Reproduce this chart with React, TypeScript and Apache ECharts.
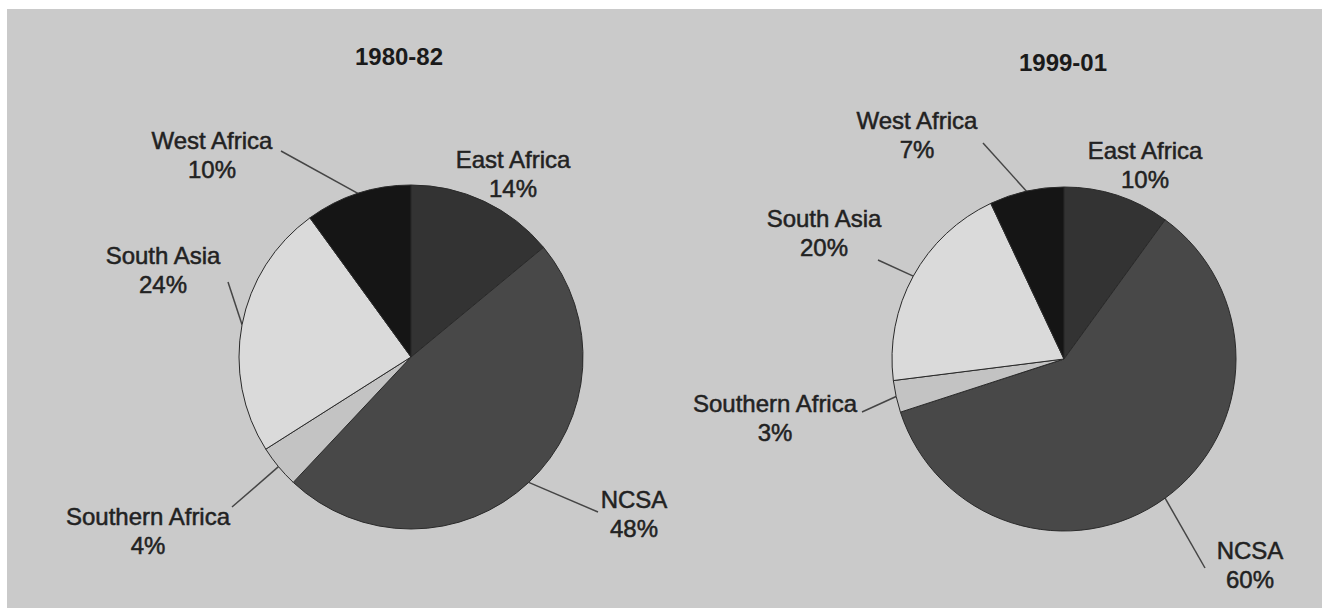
import React, { useEffect, useRef } from "react";
import * as echarts from "echarts";

const categories = ["East Africa", "NCSA", "Southern Africa", "South Asia", "West Africa"];
const values1980 = [14, 48, 4, 24, 10];
const values1999 = [10, 60, 3, 20, 7];
const titles = ["1980-82", "1999-01"];
const sliceColors = ["#333333", "#484848", "#c3c3c3", "#dadada", "#151515"];
const showLine1980 = [false, true, true, true, true];
const showLine1999 = [false, true, true, true, true];

// label layout (centre of two-line label, and where the leader meets the label)
const labelPos1980 = [[513, 174], [634, 514], [148, 531], [163, 270], [212, 155]];
const lineEnd1980 = [[0, 0], [598, 512], [232, 507], [228, 282], [281, 151]];
const labelPos1999 = [[1145, 165], [1250, 565], [775, 418], [824, 233], [917, 135]];
const lineEnd1999 = [[0, 0], [1205, 568], [862, 412], [878, 260], [983, 143]];

const FONT = "'Liberation Sans', Arial, Helvetica, sans-serif";

export default function App() {
  const ref = useRef<HTMLDivElement>(null);
  useEffect(() => {
    document.body.style.margin = "0";
    const chart = echarts.init(ref.current!, null, { renderer: "svg" });
    const makeSeries = (
      values: number[],
      center: [number, number],
      showLine: boolean[],
      labelPos: number[][],
      lineEnd: number[][]
    ) => ({
      type: "pie",
      center,
      radius: 172,
      startAngle: 90,
      clockwise: true,
      avoidLabelOverlap: false,
      silent: true,
      itemStyle: { borderColor: "#2a2a2a", borderWidth: 1 },
      label: {
        show: true,
        position: "outside",
        formatter: "{b}\n{c}%",
        fontFamily: FONT,
        fontSize: 24,
        lineHeight: 29,
        color: "#222222",
        textBorderColor: "#222222",
        textBorderWidth: 0.5,
        align: "center",
      },
      labelLine: { show: true, lineStyle: { color: "#454545", width: 1.5 }, length: 20, length2: 10 },
      labelLayout: (params: any) => {
        const i = params.dataIndex;
        const res: any = {
          x: labelPos[i][0],
          y: labelPos[i][1],
          align: "center",
          verticalAlign: "middle",
        };
        if (showLine[i] && params.labelLinePoints) {
          const p0 = params.labelLinePoints[0];
          res.labelLinePoints = [p0, lineEnd[i], lineEnd[i]];
        }
        return res;
      },
      data: categories.map((name, i) => ({
        name,
        value: values[i],
        itemStyle: { color: sliceColors[i] },
        labelLine: { show: showLine[i] },
      })),
    });

    const titleStyle = {
      fontFamily: FONT,
      fontSize: 24,
      fontWeight: "bold",
      color: "#1a1a1a",
    };

    chart.setOption({
      animation: false,
      backgroundColor: "#ffffff",
      graphic: [
        {
          type: "rect",
          z: -10,
          shape: { x: 7, y: 9, width: 1315, height: 599 },
          style: { fill: "#cacaca" },
        },
      ],
      title: [
        { text: titles[0], left: 394, top: 39, textAlign: "center", textStyle: titleStyle },
        { text: titles[1], left: 1058, top: 45, textAlign: "center", textStyle: titleStyle },
      ],
      series: [
        makeSeries(values1980, [411, 357], showLine1980, labelPos1980, lineEnd1980),
        makeSeries(values1999, [1064, 359], showLine1999, labelPos1999, lineEnd1999),
      ],
    });
    return () => chart.dispose();
  }, []);
  return <div ref={ref} style={{ width: 1328, height: 612 }} />;
}
